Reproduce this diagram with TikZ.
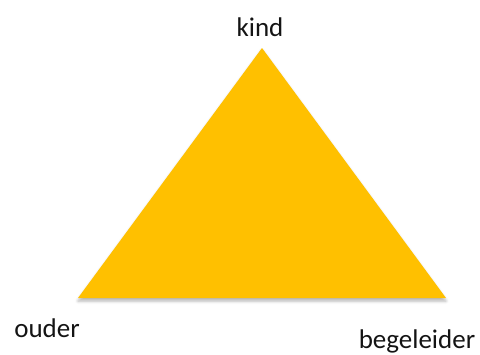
\documentclass[tikz,border=0pt]{standalone}
\usepackage{fontspec}
\setmainfont{Carlito}
\usepackage{xcolor}
\usetikzlibrary{shadows.blur}
\definecolor{triGold}{RGB}{255,192,0}
\definecolor{txtDark}{RGB}{20,20,20}

\begin{document}
\begin{tikzpicture}[x=1pt,y=-1pt,
    lbl/.style={anchor=base, inner sep=0pt, text=txtDark,
                font=\fontsize{27}{32}\selectfont},
    tri/.style={fill=triGold, draw=none,
                blur shadow={shadow xshift=0pt, shadow yshift=-3pt,
                             shadow blur radius=3pt, shadow opacity=30}}]
\useasboundingbox (0,0) rectangle (480,354);
% corners
\coordinate (top) at (262,48);
\coordinate (left) at (78,298);
\coordinate (right) at (446,298);
% triangle
\path[tri] (top) -- (right) -- (left) -- cycle;
% labels
\node[lbl] (kind) at (260,36) {kind};
\node[lbl] (ouder) at (47,337) {ouder};
\node[lbl] (begeleider) at (417,348) {begeleider};
\end{tikzpicture}
\end{document}
